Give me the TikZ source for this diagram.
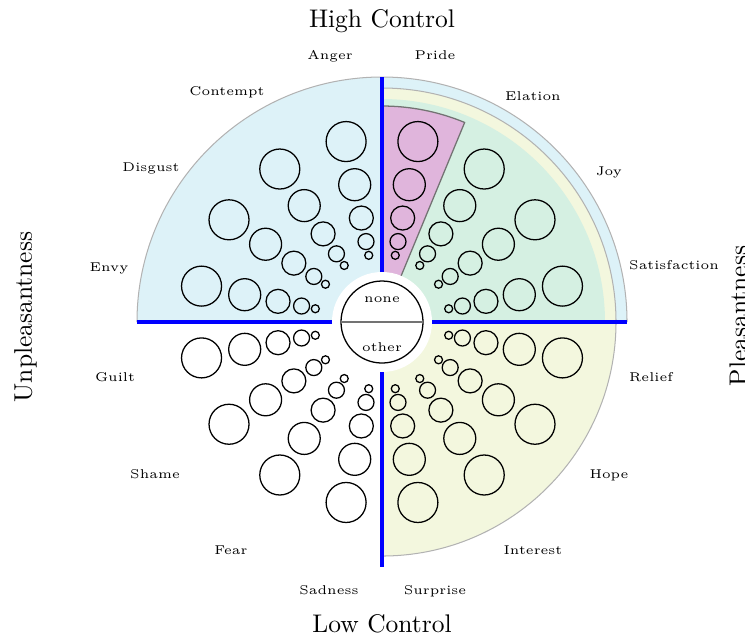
\documentclass[tikz,border=0pt]{standalone}
\definecolor{wheelblue}{RGB}{221,242,248}
\definecolor{wheelyellow}{RGB}{243,247,222}
\definecolor{wheelgreen}{RGB}{213,240,226}
\definecolor{wheelpurple}{RGB}{224,181,220}
\begin{document}
\begin{tikzpicture}[x=0.3922pt,y=0.3922pt,
  emo/.style={font=\tiny, text height=3.4pt, text depth=0pt, inner sep=0pt},
  axislabel/.style={font=\normalsize, inner sep=0pt, anchor=base},
  bubble/.style={draw=black, line width=0.5pt},
  spoke/.style={draw=blue, line width=1.2pt},
  rim/.style={draw=black!30, line width=0.4pt}]
\useasboundingbox (-382,-314) rectangle (363,322);

% coloured regions of the wheel
\fill[wheelblue] (0,0) -- (0:245) arc[start angle=0,end angle=180,radius=245] -- cycle;
\draw[rim] (0:245) arc[start angle=0,end angle=180,radius=245];
\fill[wheelyellow] (0,0) -- (-90:234) arc[start angle=-90,end angle=90,radius=234] -- cycle;
\draw[rim] (-90:234) arc[start angle=-90,end angle=90,radius=234];
\fill[wheelgreen] (0,0) -- (0:223) arc[start angle=0,end angle=90,radius=223] -- cycle;
\filldraw[fill=wheelpurple, draw=black!55, line width=0.5pt]
  (0,0) -- (67.5:216) arc[start angle=67.5,end angle=90,radius=216] -- cycle;

% five bubbles of growing intensity in each of the 16 sectors
\foreach \i in {0,...,15} {
  \pgfmathsetmacro\a{78.75-22.5*\i}
  \foreach \d/\r in {68/4,82/8,106/12,140/16,184/20}
    \draw[bubble] (\a:\d) circle[radius=\r];
}

% hub
\fill[white] (0,0) circle[radius=50];
\foreach \ang in {0,90,180,270}
  \draw[spoke] (\ang:50) -- (\ang:245);
\draw[black, line width=0.5pt] (0,0) circle[radius=41];
\draw[black!55, line width=0.7pt] (-41,0) -- (41,0);
\node[font=\tiny, inner sep=0pt, anchor=base] (none) at (0,19.3) {none};
\node[font=\tiny, inner sep=0pt, anchor=base] (other) at (0,-29.7) {other};

% emotion labels
\node[emo] (pride)    at (53,267)   {Pride};
\node[emo] (anger)    at (-52,267)  {Anger};
\node[emo] (elation)  at (151,226)  {Elation};
\node[emo] (contempt) at (-155,231) {Contempt};
\node[emo] (joy)      at (227,151)  {Joy};
\node[emo] (disgust)  at (-231,155) {Disgust};
\node[emo] (satisf)   at (292,57)   {Satisfaction};
\node[emo] (envy)     at (-273,55)  {Envy};
\node[emo] (relief)   at (269,-55)  {Relief};
\node[emo] (guilt)    at (-267,-55) {Guilt};
\node[emo] (hope)     at (227,-152) {Hope};
\node[emo] (shame)    at (-227,-152){Shame};
\node[emo] (interest) at (151,-228) {Interest};
\node[emo] (fear)     at (-151,-228){Fear};
\node[emo] (surprise) at (53,-268)  {Surprise};
\node[emo] (sadness)  at (-53,-268) {Sadness};

% axes of the wheel
\node[axislabel] (high) at (0,295)   {High Control};
\node[axislabel] (low)  at (0,-310)  {Low Control};
\node[axislabel, rotate=90] (unpl) at (-350,5) {Unpleasantness};
\node[axislabel, rotate=90] (pl)   at (365,6)  {Pleasantness};
\end{tikzpicture}
\end{document}
